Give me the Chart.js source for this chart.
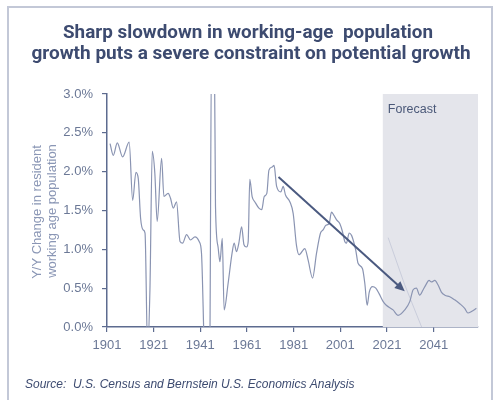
<!DOCTYPE html>
<html>
<head>
<meta charset="utf-8">
<title>Working-age population growth</title>
<script src="https://cdn.jsdelivr.net/npm/chart.js@4.4.1/dist/chart.umd.min.js"></script>
<style>
  html, body { margin: 0; padding: 0; background: #fff; }
  #wrap { position: relative; width: 498px; height: 400px; overflow: hidden; }
  #frame { position: absolute; left: 7px; top: 6px; width: 482px; height: 410px;
           border: 2px solid #c3c8d7; }
  #chart { position: absolute; left: 0; top: 0; }
</style>
</head>
<body>
<div id="wrap">
  <div id="frame"></div>
  <canvas id="chart" width="498" height="400"></canvas>
</div>
<script>
// Y/Y growth of the resident working-age population (%), history + forecast
const years = [
  1902.3, 1903.7, 1905.4, 1907.7, 1910.5, 1912.0, 1913.4, 1914.4, 1915.4, 1916.5,
  1917.3, 1918.4, 1919.4, 1920.4, 1921.5, 1922.5, 1924.4, 1925.4, 1927.2, 1928.2,
  1929.4, 1930.8, 1932.3, 1933.4, 1935.1, 1936.8, 1938.7, 1940.5, 1941.5, 1942.7,
  1943.5, 1945.0, 1945.8, 1947.0, 1947.5, 1948.6, 1949.4, 1950.4, 1951.2, 1952.9,
  1954.6, 1955.5, 1956.5, 1957.5, 1958.7, 1959.7, 1960.8, 1961.5, 1962.2, 1963.2,
  1964.4, 1966.1, 1967.3, 1968.4, 1969.5, 1970.4, 1971.8, 1972.6, 1973.7, 1975.5,
  1976.5, 1977.5, 1979.4, 1980.8, 1982.2, 1983.3, 1985.8, 1987.2, 1989.1, 1990.8,
  1992.5, 1993.6, 1994.8, 1996.2, 1997.2, 1998.2, 1999.4, 2000.8, 2001.9, 2002.9,
  2003.6, 2004.8, 2005.8, 2006.5, 2007.6, 2008.6, 2010.5, 2011.5, 2012.5, 2013.4,
  2014.8, 2016.2, 2017.6, 2019.3, 2020.7, 2023.6, 2025.7, 2028.6, 2030.8, 2032.2,
  2033.6, 2035.0, 2036.5, 2037.6, 2039.0, 2040.0, 2041.5, 2042.9, 2044.3, 2045.8,
  2047.9, 2050.0, 2052.2, 2054.3, 2055.7, 2057.2, 2059.3
];
const growth = [
  2.36, 2.21, 2.37, 2.19, 2.38, 1.63, 1.99, 1.91, 1.40, 1.25,
  1.21, -0.30, 0.48, 2.26, 1.98, 1.36, 2.17, 1.68, 1.72, 1.66,
  1.53, 1.61, 1.10, 1.08, 1.19, 1.12, 1.16, 1.10, 0.95, -0.30,
  -0.80, -0.50, 3.60, 3.60, 1.55, 1.03, 0.84, 1.14, 0.22, 0.56,
  0.95, 1.08, 0.97, 1.08, 1.29, 1.06, 1.03, 1.10, 1.90, 1.68,
  1.61, 1.53, 1.51, 1.68, 1.72, 2.02, 2.06, 2.08, 1.81, 1.74,
  1.81, 1.70, 1.61, 1.46, 1.05, 0.93, 1.01, 0.86, 0.63, 0.95,
  1.21, 1.25, 1.31, 1.33, 1.48, 1.44, 1.38, 1.33, 1.23, 1.10,
  1.08, 1.21, 1.18, 1.12, 0.99, 0.82, 0.75, 0.56, 0.28, 0.45,
  0.52, 0.50, 0.43, 0.33, 0.28, 0.22, 0.15, 0.22, 0.33, 0.48,
  0.50, 0.41, 0.48, 0.54, 0.60, 0.58, 0.60, 0.54, 0.45, 0.41,
  0.39, 0.35, 0.30, 0.24, 0.18, 0.20, 0.24
];

// faint alternative path inside the forecast window
const altYears = [2021.5, 2028.5, 2036.5];
const altGrowth = [1.15, 0.55, -0.05];

const tickYears = [1901, 1921, 1941, 1961, 1981, 2001, 2021, 2041];
const forecastStart = 2019.2;
const arrowFrom = [1974.5, 1.93];
const arrowTo = [2028.6, 0.46];

const axisColor = '#5d6b8f';
const tickColor = '#6b7896';
const navy = '#3d4b70';

const toPoints = (xs, ys) => xs.map((x, i) => ({ x: x, y: ys[i] }));

// shaded forecast block, arrow, titles and notes
const decorations = {
  id: 'decorations',
  beforeDatasetsDraw(chart) {
    const { ctx, chartArea, scales } = chart;
    const x0 = scales.x.getPixelForValue(forecastStart);
    ctx.save();
    ctx.fillStyle = '#e4e5eb';
    ctx.fillRect(x0, chartArea.top, chartArea.right - x0, chartArea.bottom - chartArea.top);
    ctx.fillStyle = '#4a5878';
    ctx.font = '12.5px "Liberation Sans", Arial, sans-serif';
    ctx.textBaseline = 'middle';
    ctx.fillText('Forecast', x0 + 5, chartArea.top + 16);
    ctx.restore();
  },
  afterDatasetsDraw(chart) {
    const { ctx, scales } = chart;
    const ax = scales.x.getPixelForValue(arrowFrom[0]);
    const ay = scales.y.getPixelForValue(arrowFrom[1]);
    const bx = scales.x.getPixelForValue(arrowTo[0]);
    const by = scales.y.getPixelForValue(arrowTo[1]);
    const ang = Math.atan2(by - ay, bx - ax);
    ctx.save();
    ctx.strokeStyle = '#4b5a80';
    ctx.fillStyle = '#4b5a80';
    ctx.lineWidth = 2;
    ctx.beginPath();
    ctx.moveTo(ax, ay);
    ctx.lineTo(bx - 6 * Math.cos(ang), by - 6 * Math.sin(ang));
    ctx.stroke();
    ctx.beginPath();
    ctx.moveTo(bx, by);
    ctx.lineTo(bx - 10 * Math.cos(ang) + 4.5 * Math.sin(ang), by - 10 * Math.sin(ang) - 4.5 * Math.cos(ang));
    ctx.lineTo(bx - 10 * Math.cos(ang) - 4.5 * Math.sin(ang), by - 10 * Math.sin(ang) + 4.5 * Math.cos(ang));
    ctx.closePath();
    ctx.fill();
    ctx.restore();
  },
  afterDraw(chart) {
    const { ctx } = chart;
    ctx.save();
    // heading
    ctx.fillStyle = navy;
    ctx.textAlign = 'center';
    ctx.textBaseline = 'alphabetic';
    ctx.font = 'bold 19px "Liberation Sans Narrow", "Roboto", sans-serif';
    ctx.fillText('Sharp slowdown in working-age  population', 248, 38, 370);
    ctx.fillText('growth puts a severe constraint on potential growth', 251, 59, 443);

    // y axis title, two rotated lines
    ctx.fillStyle = '#8a96b5';
    ctx.font = '13px "Liberation Sans", Arial, sans-serif';
    ctx.textBaseline = 'middle';
    ctx.translate(37, 212);
    ctx.rotate(-Math.PI / 2);
    ctx.fillText('Y/Y Change in resident', 0, 0);
    ctx.fillText('working age population', 1, 15);
    ctx.setTransform(1, 0, 0, 1, 0, 0);

    // source note
    ctx.fillStyle = navy;
    ctx.textAlign = 'left';
    ctx.font = 'italic 12px "Liberation Sans", Arial, sans-serif';
    ctx.fillText('Source:  U.S. Census and Bernstein U.S. Economics Analysis', 25, 385, 338);
    ctx.restore();
  }
};

new Chart(document.getElementById('chart'), {
  type: 'line',
  data: {
    datasets: [
      {
        label: 'Alternative',
        data: toPoints(altYears, altGrowth),
        borderColor: 'rgba(140, 150, 182, 0.3)',
        borderWidth: 1,
        pointRadius: 0,
        tension: 0
      },
      {
        label: 'Working-age population growth',
        data: toPoints(years, growth),
        borderColor: '#8a94b2',
        borderWidth: 1.2,
        pointRadius: 0,
        cubicInterpolationMode: 'monotone'
      }
    ]
  },
  options: {
    responsive: false,
    animation: false,
    layout: { padding: { left: 0, right: 20, top: 94, bottom: 43 } },
    plugins: {
      legend: { display: false },
      tooltip: { enabled: false },
      title: { display: false }
    },
    scales: {
      x: {
        type: 'linear',
        min: 1901,
        max: 2060,
        afterBuildTicks(scale) {
          scale.ticks = tickYears.map(v => ({ value: v }));
        },
        afterFit(scale) { scale.height = 30; },
        border: { display: true, color: axisColor, width: 1.5 },
        grid: { drawOnChartArea: false, drawTicks: true, tickLength: 5, color: axisColor, lineWidth: 1.2 },
        ticks: {
          autoSkip: false,
          maxRotation: 0,
          padding: 6,
          color: tickColor,
          font: { family: '"Liberation Sans", Arial, sans-serif', size: 13 },
          callback: v => String(v)
        }
      },
      y: {
        min: 0,
        max: 3,
        afterFit(scale) { scale.width = 107; },
        border: { display: true, color: axisColor, width: 1.5 },
        grid: { drawOnChartArea: false, drawTicks: true, tickLength: 5, color: axisColor, lineWidth: 1.2 },
        ticks: {
          stepSize: 0.5,
          padding: 9,
          color: tickColor,
          font: { family: '"Liberation Sans", Arial, sans-serif', size: 13 },
          callback: v => v.toFixed(1) + '%'
        }
      }
    }
  },
  plugins: [decorations]
});
</script>
</body>
</html>
